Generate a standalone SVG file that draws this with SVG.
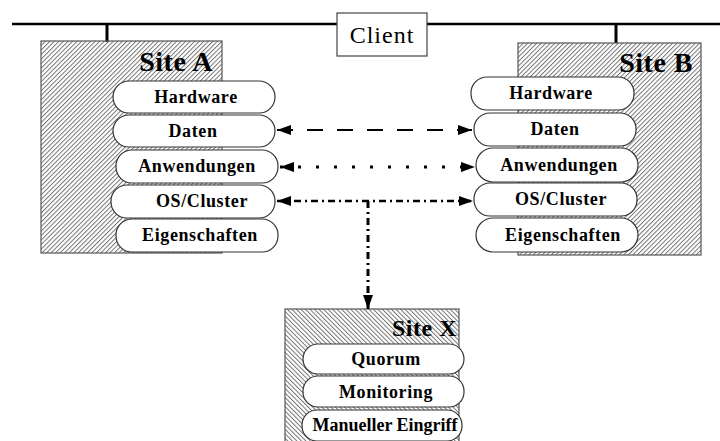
<svg xmlns="http://www.w3.org/2000/svg" width="720" height="441" viewBox="0 0 720 441">
<style>
  .site{stroke:#555;stroke-width:1.2}
  .hatchA{fill:url(#hatch1)}
  .hatchX{fill:url(#hatch2)}
  .pill{fill:#fff;stroke:#333;stroke-width:1.2}
  .pt{font-family:"Liberation Serif","Times New Roman",serif;font-weight:bold;font-size:18px;letter-spacing:0.6px;text-anchor:middle;fill:#000}
  .st{font-family:"Liberation Serif","Times New Roman",serif;font-weight:bold;font-size:28px;text-anchor:end;fill:#000;letter-spacing:0.5px}
  .conn{fill:none;stroke:#000}
</style>
<defs>
  <pattern id="hatch1" patternUnits="userSpaceOnUse" width="3.2" height="8" patternTransform="rotate(45)">
    <line x1="0.5" y1="0" x2="0.5" y2="8" stroke="#666" stroke-width="0.9"/>
  </pattern>
  <pattern id="hatch2" patternUnits="userSpaceOnUse" width="3.2" height="8" patternTransform="rotate(-45)">
    <line x1="0.5" y1="0" x2="0.5" y2="8" stroke="#666" stroke-width="0.9"/>
  </pattern>
  <marker id="arr" markerUnits="userSpaceOnUse" markerWidth="16" markerHeight="12" refX="14" refY="5" orient="auto-start-reverse">
    <path d="M0,0 L14,5 L0,10 Z" fill="#000"/>
  </marker>
</defs>

<g id="bus">
  <line x1="12" y1="24" x2="720" y2="24" stroke="#000" stroke-width="2.5"/>
  <line x1="107" y1="24" x2="107" y2="42" stroke="#000" stroke-width="3"/>
  <line x1="616" y1="24" x2="616" y2="43" stroke="#000" stroke-width="3"/>
</g>

<g id="client">
  <rect x="337" y="13" width="90" height="43" fill="#fff" stroke="#444" stroke-width="1.2"/>
  <text x="382" y="43" font-family="Liberation Serif,'Times New Roman',serif" font-size="24" letter-spacing="1" text-anchor="middle">Client</text>
</g>

<g id="siteA">
  <rect class="site hatchA" x="41" y="41" width="181" height="212"/>
  <text class="st" x="213" y="71">Site A</text>
  <rect class="pill" x="113" y="81" width="162" height="32" rx="16"/>
  <text class="pt" x="196" y="103">Hardware</text>
  <rect class="pill" x="113" y="115" width="162" height="32" rx="16"/>
  <text class="pt" x="193" y="137">Daten</text>
  <rect class="pill" x="116" y="150" width="162" height="33" rx="16"/>
  <text class="pt" x="197" y="172">Anwendungen</text>
  <rect class="pill" x="111" y="185" width="164" height="33" rx="16"/>
  <text class="pt" x="202" y="207">OS/Cluster</text>
  <rect class="pill" x="116" y="219" width="162" height="33" rx="16"/>
  <text class="pt" x="200" y="241">Eigenschaften</text>
</g>

<g id="siteB">
  <rect class="site hatchA" x="518" y="43" width="183" height="212"/>
  <text class="st" x="693" y="72">Site B</text>
  <rect class="pill" x="471" y="77" width="163" height="33" rx="16"/>
  <text class="pt" x="551" y="99">Hardware</text>
  <rect class="pill" x="474" y="113" width="162" height="33" rx="16"/>
  <text class="pt" x="555" y="135">Daten</text>
  <rect class="pill" x="476" y="148" width="162" height="34" rx="17"/>
  <text class="pt" x="559" y="171">Anwendungen</text>
  <rect class="pill" x="474" y="183" width="163" height="33" rx="16"/>
  <text class="pt" x="561" y="205">OS/Cluster</text>
  <rect class="pill" x="476" y="218" width="162" height="34" rx="17"/>
  <text class="pt" x="563" y="241">Eigenschaften</text>
</g>

<g id="siteX">
  <rect class="site hatchX" x="285" y="309" width="174" height="140"/>
  <text class="st" x="457" y="336" style="font-size:24px">Site X</text>
  <rect class="pill" x="303" y="344" width="161" height="30" rx="15"/>
  <text class="pt" x="386" y="365">Quorum</text>
  <rect class="pill" x="303" y="376" width="161" height="31" rx="15"/>
  <text class="pt" x="386" y="398">Monitoring</text>
  <rect class="pill" x="302" y="410" width="160" height="31" rx="15"/>
  <text class="pt" x="385" y="431" style="letter-spacing:0px">Manueller Eingriff</text>
</g>

<g id="connectors">
  <line class="conn" x1="277" y1="130" x2="472" y2="130" stroke-width="2.2" stroke-dasharray="16 14" marker-start="url(#arr)" marker-end="url(#arr)"/>
  <line class="conn" x1="280" y1="167" x2="475" y2="167" stroke-width="3" stroke-dasharray="3 15" marker-start="url(#arr)" marker-end="url(#arr)"/>
  <line class="conn" x1="277" y1="201" x2="473" y2="201" stroke-width="2.5" stroke-dasharray="7 4 2 4" marker-start="url(#arr)" marker-end="url(#arr)"/>
  <line class="conn" x1="368" y1="201" x2="368" y2="309" stroke-width="3" stroke-dasharray="7 4 2 4" marker-end="url(#arr)"/>
</g>
</svg>
